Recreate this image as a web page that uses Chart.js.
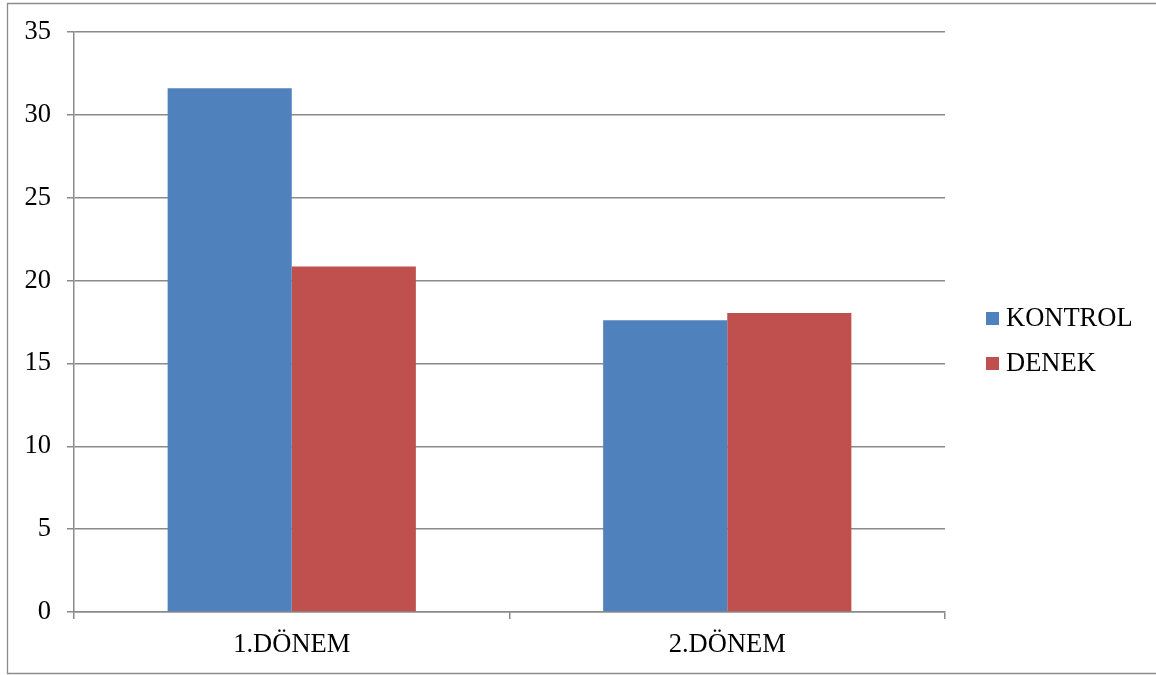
<!DOCTYPE html>
<html>
<head>
<meta charset="utf-8">
<script src="https://cdn.jsdelivr.net/npm/chart.js@4/dist/chart.umd.min.js"></script>
<style>
  html, body { margin: 0; padding: 0; background: #fff; }
  #wrap { width: 1156px; height: 675px; position: relative; }
</style>
</head>
<body>
<div id="wrap"><canvas id="c" width="1156" height="675"></canvas></div>
<script>
// Periods on the x axis
const categories = ['1.DÖNEM', '2.DÖNEM'];
// Group scores per period
const kontrolValues = [31.6, 17.6];
const denekValues = [20.85, 18.05];
const seriesNames = ['KONTROL', 'DENEK'];
const seriesColors = ['#4F81BD', '#C0504D'];
// Value axis
const yMin = 0, yMax = 35, yStep = 5;

const FONT = '"Liberation Serif", "Times New Roman", serif';
const GRID = '#8a8a8a';

// Outer frame and legend drawn on the canvas
const framePlugin = {
  id: 'frame',
  beforeDraw(chart) {
    const ctx = chart.ctx;
    ctx.save();
    ctx.fillStyle = '#fff';
    ctx.fillRect(0, 0, chart.width, chart.height);
    ctx.strokeStyle = '#8c8c8c';
    ctx.lineWidth = 1.3;
    ctx.beginPath();
    ctx.moveTo(chart.width + 2, 3.5);
    ctx.lineTo(7.5, 3.5);
    ctx.lineTo(7.5, 673.5);
    ctx.lineTo(chart.width + 2, 673.5);
    ctx.stroke();
    ctx.restore();
  },
  afterDraw(chart) {
    const ctx = chart.ctx;
    ctx.save();
    ctx.font = '26.5px ' + FONT;
    ctx.textBaseline = 'middle';
    ctx.textAlign = 'left';
    chart.data.datasets.forEach((ds, i) => {
      const cy = 318 + i * 45;
      ctx.fillStyle = ds.backgroundColor;
      ctx.fillRect(986, cy - 6, 13, 13);
      ctx.fillStyle = '#000';
      ctx.fillText(ds.label, 1006, cy + 1);
    });
    ctx.restore();
  }
};

new Chart(document.getElementById('c'), {
  type: 'bar',
  data: {
    labels: categories,
    datasets: [
      { label: seriesNames[0], data: kontrolValues, backgroundColor: seriesColors[0] },
      { label: seriesNames[1], data: denekValues, backgroundColor: seriesColors[1] }
    ]
  },
  options: {
    responsive: false,
    animation: false,
    devicePixelRatio: 1,
    layout: { padding: { left: 0, right: 211, top: 32, bottom: 0 } },
    datasets: { bar: { barPercentage: 1, categoryPercentage: 0.57, borderWidth: 0 } },
    plugins: { legend: { display: false }, tooltip: { enabled: false } },
    scales: {
      x: {
        grid: { display: true, drawOnChartArea: false, drawTicks: true, tickLength: 7, color: GRID, lineWidth: 1.5, offset: true },
        border: { display: true, color: GRID, width: 1.5 },
        ticks: { color: '#000', font: { family: FONT, size: 26.5 }, padding: 10 },
        afterFit(scale) { scale.height = 675 - 612; }
      },
      y: {
        min: yMin, max: yMax,
        grid: { color: GRID, lineWidth: 1.5, tickLength: 7, drawTicks: true },
        border: { display: true, color: GRID, width: 1.5 },
        ticks: { stepSize: yStep, color: '#000', font: { family: FONT, size: 26.5 }, padding: 16 },
        afterFit(scale) { scale.width = 74; }
      }
    }
  },
  plugins: [framePlugin]
});
</script>
</body>
</html>
